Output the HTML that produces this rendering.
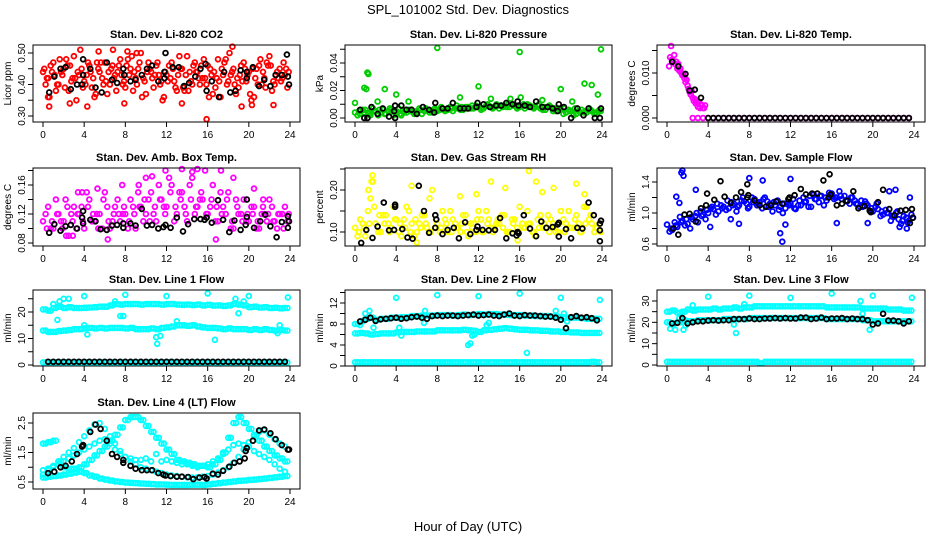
<!DOCTYPE html>
<html><head><meta charset="utf-8"><style>
html,body{margin:0;padding:0;background:#fff;}
svg{display:block;font-family:"Liberation Sans",sans-serif;}
</style></head><body>
<svg id="chart" width="936" height="540" viewBox="0 0 936 540">
<text x="468" y="14" text-anchor="middle" font-size="13">SPL_101002  Std. Dev. Diagnostics</text>
<text x="468" y="531" text-anchor="middle" font-size="13">Hour of Day (UTC)</text>
</svg>
<script>
// ---------- data ----------
const co2A = [.44,.42,.47,.40,.45,.38,.49,.43,.41,.46,.36,.44,.47,.40,.43,.48,.39,.45,.42,.50,.37,.44,.46,.41,.43,.47,.38,.45,.49,.40,.44,.42,.46,.37,.48,.43,.41,.45,.39,.47,.44,.36,.46,.42,.49,.40,.45,.43];
const co2B = [.40,.46,.38,.44,.48,.41,.35,.45,.43,.39,.47,.42,.37,.46,.44,.40,.48,.38,.45,.42,.47,.39,.43,.36,.46,.41,.49,.38,.44,.47,.40,.42,.45,.39,.36,.48,.43,.37,.46,.41,.35,.45,.40,.47,.38,.44,.42,.39];
const co2C = [.45,.36,.43,.48,.39,.46,.42,.51,.40,.44,.37,.47,.41,.45,.38,.43,.46,.49,.40,.36,.44,.42,.47,.35,.41,.45,.43,.39,.38,.46,.42,.48,.36,.44,.41,.47,.50,.40,.43,.45,.37,.42,.48,.39,.46,.43,.41,.45];
const co2D = [.42,.44,.40,.43,.46,.42,.44,.39,.47,.42,.45,.40,.44,.42,.46,.41,.43,.44,.47,.41,.45,.43,.40,.44,.42,.39,.45,.43,.41,.44,.46,.40,.43,.42,.45,.40,.44,.42,.41,.43,.45,.40,.44,.46,.41,.42,.47,.44];
const co2OutT = [0.6,4.3,2.6,6.8,7.9,8.2,9.1,15.9,18.4,19.3,20.3,22.4,0.5,5.4,13.5];
const co2OutV = [.33,.33,.34,.51,.34,.505,.50,.29,.52,.33,.335,.335,.36,.505,.34];
const co2BlkT = [0.6,1.1,1.7,2.2,2.7,3.3,3.8,3.9,3.9,4.6,5.1,5.7,6.2,6.7,7.2,7.8,7.9,8.5,9.0,9.6,10.1,10.6,11.2,11.8,11.9,11.8,12.6,13.2,13.7,14.2,14.8,15.3,15.8,15.9,16.4,17.1,17.6,18.2,18.7,19.2,19.8,19.8,20.4,21.0,21.5,22.1,22.6,23.2,23.7,23.8,23.9];
const co2BlkV = [.375,.425,.45,.455,.385,.40,.40,.48,.43,.45,.39,.375,.47,.415,.405,.45,.43,.41,.415,.43,.45,.46,.41,.42,.50,.44,.455,.455,.395,.405,.425,.45,.465,.38,.41,.36,.44,.375,.38,.445,.42,.44,.455,.395,.415,.395,.43,.43,.495,.425,.40];

const presA = [.004,.003,.006,.002,.005,.004,.003,.006,.005,.002,.004,.006,.005,.003,.006,.004,.005,.007,.006,.005,.007,.006,.008,.007,.008,.007,.009,.008,.007,.009,.008,.009,.008,.007,.009,.008,.007,.006,.008,.005,.006,.004,.005,.003,.006,.004,.005,.003];
const presB = [.002,.006,.004,.007,.002,.006,.005,.002,.007,.004,.006,.003,.007,.005,.004,.007,.006,.005,.008,.007,.006,.008,.007,.009,.006,.009,.008,.010,.009,.008,.010,.007,.009,.010,.008,.009,.006,.008,.005,.007,.003,.006,.002,.005,.004,.007,.003,.006];
const presC = [.005,.004,.003,.005,.006,.003,.007,.004,.003,.006,.005,.004,.006,.007,.005,.006,.008,.006,.007,.009,.008,.007,.009,.008,.007,.010,.007,.009,.008,.010,.009,.008,.010,.009,.007,.010,.008,.009,.007,.006,.007,.005,.007,.004,.005,.006,.004,.005];
const presOutT = [0,0.9,1.1,1.2,1.3,2.2,2.9,4.0,5.2,8.0,10.2,12.0,13.2,15.1,16.0,16.1,18.2,20.0,21.1,22.3,23.0,23.6,23.9];
const presOutV = [.011,.022,.021,.033,.032,.012,.021,.017,.012,.051,.015,.023,.014,.014,.048,.015,.013,.021,.012,.025,.024,.017,.050];
const presBlkT = [0.5,0.9,1.2,1.6,2.2,2.7,3.3,3.8,3.9,3.9,4.5,5.0,5.5,6.0,6.6,7.2,7.7,7.8,8.5,9.0,9.5,10.2,10.6,11.0,11.8,11.9,12.5,13.1,13.7,14.2,14.7,15.3,15.8,15.9,16.5,17.0,17.6,18.2,18.7,19.2,19.7,19.8,20.3,21.0,21.6,22.2,22.7,23.3,23.8,23.9];
const presBlkV = [.006,0,0,.008,.003,.007,.001,.005,0,.009,.009,.006,.006,.003,.008,.006,.004,.011,.007,.007,.011,.007,.007,.007,.008,.011,.010,.008,.009,.009,.011,.010,.012,.009,.009,.008,.012,.008,.008,.007,.005,.010,.008,0,.007,.002,.007,0,0,.007];

const tempRampT = [0.2,0.3,0.4,0.5,0.6,0.7,0.8,0.9,1.0,1.1,1.2,1.3,1.4,1.5,1.6,1.7,1.8,1.9,2.0,2.1,2.2,2.3,2.4,2.5,2.6,2.7,2.8,2.9,3.0,3.1,3.2,3.3,3.4,3.5,3.6,3.7];
const tempRampV = [.0115,.0135,.016,.013,.0125,.014,.012,.0125,.011,.012,.0105,.011,.010,.0095,.0098,.0088,.008,.0085,.0072,.0065,.0058,.0052,.006,.0045,.0038,.0042,.0032,.0035,.0025,.0035,.0022,.003,.0028,.0022,.0022,.0028];
const tempZeroV = [0,0,0,0,0,0,0,0,0,0,0,0,0,0,0,0,0,0,0,0,0,0,0,0,0,0,0,0,0,0,0,0,0,0,0,0,0,0,0,0,0,0,0,0,0,0,0,0];
const tempBlkT = [0.5,1.1,1.8,2.2,2.7,3.3];
const tempBlkV = [.0125,.0115,.0098,.0061,.0063,.0045];

const ambA = [.11,.13,.10,.12,.11,.09,.13,.12,.10,.14,.11,.12,.15,.10,.13,.11,.12,.14,.10,.13,.12,.15,.11,.14,.13,.16,.12,.15,.11,.17,.13,.14,.12,.16,.11,.13,.15,.10,.12,.14,.11,.13,.10,.12,.14,.11,.12,.13];
const ambB = [.12,.10,.14,.11,.09,.12,.10,.13,.15,.11,.12,.10,.13,.11,.14,.12,.10,.13,.15,.11,.14,.12,.16,.13,.17,.11,.15,.13,.16,.12,.14,.18,.13,.11,.15,.12,.10,.14,.12,.11,.13,.10,.12,.11,.13,.10,.12,.11];
const ambC = [.10,.11,.12,.10,.13,.11,.12,.11,.13,.12,.10,.14,.11,.12,.12,.13,.11,.12,.13,.14,.11,.13,.14,.12,.15,.13,.14,.12,.14,.13,.15,.12,.14,.13,.12,.14,.11,.13,.11,.12,.12,.11,.13,.12,.11,.12,.10,.12];
const ambOutT = [3.8,3.4,5.3,7.7,9.3,10.0,10.6,11.9,13.5,14.5,15.0,17.3,18.5,20.5,21.4,6.3,16.8,2.9,2.2];
const ambOutV = [.15,.15,.155,.16,.16,.17,.172,.18,.182,.178,.182,.18,.17,.155,.14,.085,.085,.09,.14];
const ambBlkT = [0.6,1.1,1.7,2.2,2.7,3.3,3.8,3.9,3.9,4.6,5.1,5.6,6.2,6.7,7.2,7.8,7.8,8.5,9.0,9.6,10.1,10.6,11.2,11.7,11.9,12.4,13.0,13.6,14.1,14.7,15.3,15.7,15.9,16.4,17.0,17.5,18.1,18.6,19.2,19.7,19.8,19.8,20.5,21.1,21.6,22.1,22.7,23.2,23.8,23.8,23.9];
const ambBlkV = [.094,.106,.097,.103,.105,.10,.115,.107,.124,.112,.110,.099,.098,.104,.105,.107,.101,.107,.104,.127,.104,.105,.100,.102,.105,.101,.115,.096,.106,.113,.113,.112,.115,.108,.139,.112,.095,.111,.098,.105,.116,.140,.101,.110,.119,.103,.088,.109,.101,.117,.110];

const rhA = [.11,.13,.09,.18,.12,.10,.14,.11,.13,.09,.16,.12,.10,.14,.11,.20,.12,.15,.10,.13,.11,.14,.09,.12,.15,.10,.13,.11,.12,.14,.10,.13,.16,.11,.12,.09,.14,.11,.13,.10,.15,.12,.11,.14,.10,.16,.12,.11];
const rhB = [.09,.12,.15,.22,.10,.14,.12,.16,.10,.13,.15,.09,.12,.14,.18,.11,.10,.13,.15,.12,.10,.14,.12,.10,.13,.15,.11,.12,.14,.10,.13,.11,.12,.15,.10,.13,.11,.14,.12,.10,.13,.15,.11,.12,.16,.13,.10,.12];
const rhC = [.10,.11,.12,.16,.14,.12,.10,.13,.12,.11,.10,.13,.11,.12,.10,.13,.11,.12,.10,.11,.12,.10,.11,.13,.10,.12,.10,.13,.11,.10,.12,.10,.11,.12,.10,.11,.12,.10,.11,.12,.10,.11,.13,.10,.12,.14,.11,.10];
const rhOutT = [1.7,1.6,1.3,5.5,10.2,11.8,13.2,14.6,16.9,17.6,18.2,19.3,21.5,22.3,6.0,15.8];
const rhOutV = [.235,.22,.20,.21,.185,.19,.22,.205,.245,.22,.195,.205,.215,.19,.075,.08];
const rhBlkT = [0.6,1.1,1.7,2.2,2.8,3.3,3.8,3.9,3.9,4.6,5.1,5.6,6.2,6.7,7.2,7.8,7.8,7.9,8.5,9.0,9.6,10.1,10.7,11.2,11.8,11.9,12.4,13.0,13.6,14.1,14.7,15.3,15.7,15.8,15.9,16.4,17.0,17.6,18.1,18.6,19.2,19.7,19.8,19.8,20.5,21.0,21.6,22.1,22.7,23.2,23.8,23.8,23.8,23.9];
const rhBlkV = [.074,.105,.086,.113,.17,.104,.105,.16,.165,.107,.087,.084,.21,.15,.098,.11,.14,.13,.095,.105,.11,.085,.123,.095,.105,.113,.105,.104,.105,.133,.085,.097,.092,.10,.097,.14,.108,.09,.125,.11,.112,.118,.122,.089,.107,.085,.11,.108,.17,.14,.078,.104,.12,.127];

const flowA = [0.85,0.78,0.82,0.90,0.86,0.92,0.88,0.98,1.00,1.05,1.02,1.08,1.06,1.12,1.10,1.15,1.08,1.18,1.14,1.20,1.12,1.10,1.08,1.06,1.12,1.05,1.10,1.15,1.08,1.18,1.22,1.16,1.25,1.20,1.18,1.15,1.20,1.12,1.08,1.10,1.02,1.05,0.98,1.00,0.95,0.92,0.96,0.90];
const flowB = [0.76,0.88,0.95,0.84,0.80,0.96,1.02,0.92,1.06,0.98,1.10,1.04,1.14,1.02,1.16,1.12,1.20,1.10,1.06,1.15,1.02,1.16,1.00,1.12,1.18,1.10,1.20,1.08,1.24,1.14,1.10,1.26,1.18,1.28,1.22,1.12,1.16,1.08,1.15,1.02,1.08,0.96,1.04,0.90,1.00,0.86,0.94,0.98];
const flowC = [0.80,0.84,0.88,0.92,0.95,1.00,0.96,1.04,1.08,1.12,1.06,1.16,1.10,1.08,1.20,1.06,1.14,1.12,1.18,1.08,1.14,1.04,1.12,1.10,1.06,1.16,1.14,1.22,1.18,1.22,1.20,1.22,1.20,1.22,1.16,1.20,1.12,1.16,1.12,1.06,1.12,1.02,1.00,0.96,1.02,0.90,0.88,0.94];
const flowOutT = [1.4,1.5,1.6,0.9,1.2,2.8,4.2,6.2,7.0,8.0,9.3,11.0,11.2,11.5,12.0,16.5,19.5,21.6,22.2,22.6,23.3,23.6];
const flowOutV = [1.52,1.55,1.48,1.21,1.13,1.30,0.82,0.92,0.86,1.45,1.42,0.74,0.63,0.85,1.44,0.87,0.87,1.28,1.30,0.82,0.80,1.20];
const flowBlkT = [0.6,1.1,1.7,2.2,2.8,3.3,3.8,3.9,4.6,5.2,5.6,6.2,6.7,7.2,7.8,7.8,7.9,8.5,9.0,9.6,10.1,10.6,11.2,11.8,11.9,12.4,13.0,13.5,14.1,14.6,15.2,15.7,15.8,15.9,16.5,17.0,17.5,18.1,18.6,19.2,19.7,19.8,20.5,21.0,21.6,22.1,22.7,23.2,23.6,23.8,23.9];
const flowBlkV = [0.80,0.72,0.98,0.99,0.89,1.06,1.10,1.25,1.17,1.41,1.21,1.13,1.20,1.27,1.20,1.37,1.23,1.16,1.10,1.08,1.10,1.15,1.12,1.18,1.20,1.23,1.31,1.24,1.25,1.25,1.42,1.20,1.50,1.24,1.10,1.12,1.16,1.28,1.06,1.09,1.03,1.01,1.14,1.30,1.05,0.97,1.03,1.04,0.87,1.05,0.94];

const l1Top = [21,20.5,21.5,22,21.5,21.8,21.5,21.5,21.6,21.7,21.8,22,22,22.5,23,22.8,23,23,23,22.8,23,23,23,22.8,23,23,22.8,22.7,22.8,22.6,22.8,22.5,22.7,22.4,22.5,22.3,22.5,23,22.8,22.5,21.8,22,21.7,21.8,21.5,21.6,21.4,21.5];
const l1Mid = [13,12.5,12.5,12.8,13,13.2,13.5,13.5,13.8,14,13.8,14,13.8,14,14,14,13.8,14,13.5,13.5,13.5,13.8,13.5,14,14.2,14.5,15,15,14.8,15,14.5,14.2,14,14,13.8,13.5,13.8,13.5,13.5,13.5,13.2,13.5,13.2,13.5,13.2,13,13.2,13];
const l1Low = [1,1,1,1,1,1,1,1,1,1,1,1,1,1,1,1,1,1,1,1,1,1,1,1,1.1,1,1,1,1,1,1,1,1,1,0.6,1,1,1,1,1,1,1,1,1,1,1,1,1];
const l1OutT = [1.6,2.0,2.5,1.0,1.4,4,7,7.5,7.8,8,12,16,16.7,18.7,19,19.5,20,23.8,11.1,11,11.4,4.3,4.0,13,22.8,23];
const l1OutV = [24,25,25,23,17,26,24,18.5,18.5,26.5,26,27,9.5,25,19.5,24,26,25.5,8,10.5,11,11.5,15,16.5,12,15];
const l1Blk = [1.2,1.2,1.2,1.2,1.2,1.2,1.2,1.2,1.2,1.2,1.2,1.2,1.2,1.2,1.2,1.2,1.2,1.2,1.2,1.2,1.2,1.2,1.2,1.2,1.2,1.2,1.2,1.2,1.2,1.2,1.2,1.2,1.2,1.2,1.2,1.2,1.2,1.2,1.2,1.2,1.2,1.2,1.2,1.2,1.2,1.2,1.2];

const l2Top = [8,8.5,9,9.2,8.8,9,9,9.2,9.2,9.3,9.3,9.5,9.5,9.6,9.6,9.6,9.7,9.7,9.7,9.6,9.7,9.8,9.7,9.8,9.9,9.8,9.9,9.9,9.8,9.8,9.7,9.7,9.7,9.6,9.6,9.5,9.5,9.5,9.4,9.4,9.3,9.2,9.2,9.2,9.1,9.0,9.0,9.0];
const l2Mid = [6.2,6.3,6.2,6.0,6.1,6.2,6.2,6.2,6.4,6.5,6.5,6.5,6.6,6.6,6.6,6.6,6.8,6.8,6.8,6.8,6.8,6.9,6.8,6.7,6.5,6.8,6.9,7.0,7.1,7.2,7.1,7.0,6.9,6.9,6.8,6.8,6.7,6.7,6.6,6.6,6.5,6.5,6.4,6.4,6.3,6.3,6.3,6.3];
const l2Low = [0.7,0.7,0.7,0.7,0.7,0.7,0.7,0.7,0.7,0.7,0.7,0.7,0.7,0.7,0.7,0.7,0.7,0.7,0.7,0.7,0.7,0.7,0.7,0.7,0.7,0.7,0.7,0.7,0.7,0.7,0.7,0.7,0.7,0.7,0.7,0.7,0.7,0.7,0.7,0.7,0.7,0.7,0.7,0.7,0.7,0.7,0.8,0.7];
const l2OutT = [0.5,1.0,1.4,1.8,4,4.3,4.5,6.8,6.7,8,11,11.2,11.4,11.6,12,12.8,13.0,16,16.7,19.5,20,20.3,20.6,23.8];
const l2OutV = [7.8,10,10.5,7.3,13,7.3,5.8,10.5,8.2,13.5,4,4.3,5.8,6,13.3,7.8,8.2,13.8,2.5,10.5,13,10,8.5,12.6];
const l2Blk = [8.5,8.8,9.2,8.6,8.9,9.0,9.1,9.2,9.0,9.1,9.3,9.4,9.2,9.0,9.5,9.6,9.5,9.6,9.6,9.5,9.6,9.7,9.8,9.6,9.7,9.8,9.6,9.5,9.8,10.0,9.6,9.5,9.7,9.6,9.6,9.5,9.4,9.4,9.2,8.8,7.2,9.3,9.5,9.2,9.3,9.1,8.7];

const l3Top = [25,25.5,24.5,25,26,25.5,26,26,26,26.5,26,26.5,26.5,27,26.5,27,27,27.5,27.5,27.5,27.5,27.5,27.5,27.5,27.5,27.5,27.5,27.5,27.5,27.5,27.5,27,27,27,27,27,27,27,26.5,26.5,26.5,26.5,26.5,26,26,26,25.5,25.5];
const l3Mid = [20,19.5,20,21,20.5,20.5,21,21,21,21,21,21.5,21.5,21.5,21.5,21.5,22,22,22,22,22,22,22,22,22,22,22,22,22,22,22,21.5,21.5,21.5,21.5,21.5,21.5,21.5,21,21,20.5,20.5,20.5,20.5,20.5,20.5,20.5,20.5];
const l3Low = [1.5,1.5,1.5,1.5,1.5,1.5,1.5,1.5,1.5,1.5,1.5,1.5,1.5,1.5,1.5,1.5,1.5,1.5,0.8,1.5,1.5,1.5,1.5,1.5,1.5,1.5,1.5,1.5,1.5,1.5,1.5,1.5,1.5,1.5,1.5,1.5,1.5,1.5,1.5,1.5,1.5,1.5,1.5,1.5,1.5,1.5,1.5,1.5];
const l3OutT = [0.3,0.8,1.2,1.6,1.8,2,2.5,4,6.7,6.5,8,12,16,18.8,19.7,20,23.8,19,7.5];
const l3OutV = [17,16.5,22,16.5,18.5,26,28,32,15,19,32.5,31.5,33.5,30,16.5,32.5,31.5,24,28.5];
const l3Blk = [19.5,19.8,22,19.5,20,20.5,20.5,20.8,21,20.8,21,21,21.5,21.5,21.5,21.8,21.5,21.5,21.8,21.8,22,21.8,22,21.8,21.8,22.2,22.2,21.5,21.8,22.2,21.5,21.8,21.8,22,21.5,21.8,21.5,21.5,21,19,19.5,24,20.8,20.8,20.5,19.5,20.5];

const l4C1 = [.65,.68,.70,.72,.75,.78,.82,.85,.80,.72,.68,.62,.58,.55,.52,.50,.48,.47,.46,.45,.44,.43,.42,.42,.41,.40,.40,.40,.40,.41,.41,.40,.42,.44,.46,.48,.50,.52,.54,.55,.57,.58,.60,.62,.64,.66,.68,.70];
const l4C2 = [.75,.90,1.05,1.20,1.35,1.50,1.65,1.85,2.05,2.25,2.45,2.50,2.30,2.05,1.80,1.55,1.35,1.20,1.10,1.00,.95,.90,.85,.80,.75,.72,.70,.68,.66,.65,.66,.68,.70,.75,.82,.90,1.00,1.15,1.35,1.60,1.85,2.05,2.20,2.25,2.10,1.95,1.80,1.70];
const l4C3 = [1.8,1.85,1.9,1.2,1.0,0.95,0.95,1.0,1.1,1.25,1.4,1.55,1.7,1.9,2.1,2.35,2.6,2.7,2.7,2.6,2.4,2.2,2.0,1.8,1.6,1.45,1.25,1.2,1.15,1.1,1.05,1.05,1.0,1.1,1.25,1.5,2.0,2.5,2.7,2.5,2.3,2.1,1.9,1.7,1.55,1.4,1.3,1.2];
const l4C4 = [.9,.95,1.0,1.1,1.2,1.3,1.4,1.5,1.6,1.7,1.8,1.9,1.95,1.8,1.6,1.45,1.35,1.3,1.25,1.25,1.3,1.2,1.45,1.2,1.25,1.2,1.15,1.1,1.1,1.05,1.0,1.05,1.1,1.2,1.3,1.45,1.6,1.75,1.8,1.75,1.7,1.55,1.45,1.35,1.25,1.1,0.95,0.85];
const l4BlkT = [0.5,1.1,1.7,2.2,2.8,3.3,3.8,3.9,4.6,5.1,5.6,6.2,6.7,7.2,7.8,7.8,8.5,9.0,9.6,10.1,10.6,11.2,11.7,11.9,12.4,13.0,13.5,14.1,14.6,15.2,15.7,15.9,16.5,17.0,17.5,18.1,18.6,19.1,19.6,19.7,19.8,20.4,21.0,21.5,22.1,22.6,23.2,23.8,23.9];
const l4BlkV = [.8,.85,1.0,1.05,1.2,1.45,1.7,1.75,2.2,2.45,2.3,1.9,1.45,1.35,1.25,1.15,1.05,.95,.9,.9,.9,.8,.75,.72,.7,.68,.68,.67,.6,.65,.67,.62,.78,.75,.88,1.02,1.15,1.2,1.3,1.55,1.65,1.9,2.25,2.28,2.15,1.95,1.75,1.6,1.6];

// sample times for half-hourly series
const t48 = Array.from({length:48},(_, i)=>i*0.5);
const t48b = t48.map(t=>t+0.25);
const t48c = t48.map(t=>t+0.375);
const tBlk47 = Array.from({length:47},(_, i)=>0.5+i*0.5);

const xTicks = [0,4,8,12,16,20,24];

// ---------- layout ----------
const cols = [{bx0:33,bx1:300,tx0:43,tx1:290},{bx0:345,bx1:612,tx0:355,tx1:602},{bx0:657,bx1:925,tx0:667,tx1:914}];
const rows = [{by0:45,by1:122},{by0:168,by1:246},{by0:290,by1:366},{by0:413,by1:489}];
const RED='#ff0000',GRN='#00cc00',MAG='#ff00ff',YEL='#ffff00',BLU='#0000ff',CYN='#00ffff',BLK='#000000';

const panels = [
 {name:'co2',title:'Stan. Dev. Li-820 CO2',ylab:'Licor ppm',c:0,r:0,v0:.30,p0:116,v1:.50,p1:53,yt:[.30,.35,.40,.45,.50],yl:[.30,.40,.50],fmt:2,
  series:[[t48,co2A,RED],[t48b,co2B,RED],[t48.map(t=>t+0.125),co2C,RED],[t48c,co2D,RED],[co2OutT,co2OutV,RED],[co2BlkT,co2BlkV,BLK]]},
 {name:'pressure',title:'Stan. Dev. Li-820 Pressure',ylab:'kPa',c:1,r:0,v0:0,p0:118,v1:.04,p1:63,yt:[0,.01,.02,.03,.04,.05],yl:[0,.02,.04],fmt:2,
  series:[[t48,presA,GRN],[t48b,presB,GRN],[t48c,presC,GRN],[presOutT,presOutV,GRN],[presBlkT,presBlkV,BLK]]},
 {name:'li820-temp',title:'Stan. Dev. Li-820 Temp.',ylab:'degrees C',c:2,r:0,v0:0,p0:118,v1:.010,p1:73,yt:[0,.005,.010,.015],yl:[0,.010],fmt:3,
  series:[[tempRampT,tempRampV,MAG],[t48.filter(t=>t>=2.5),tempZeroV.slice(0,t48.filter(t=>t>=2.5).length),MAG],[tempBlkT,tempBlkV,BLK],[tBlk47.filter(t=>t>=3.8),tempZeroV.slice(0,tBlk47.filter(t=>t>=3.8).length),BLK]]},
 {name:'amb-box-temp',title:'Stan. Dev. Amb. Box Temp.',ylab:'degrees C',c:0,r:1,v0:.08,p0:243,v1:.16,p1:185,yt:[.08,.10,.12,.14,.16,.18],yl:[.08,.12,.16],fmt:2,
  series:[[t48,ambA,MAG],[t48b,ambB,MAG],[t48c,ambC,MAG],[ambOutT,ambOutV,MAG],[ambBlkT,ambBlkV,BLK]]},
 {name:'gas-stream-rh',title:'Stan. Dev. Gas Stream RH',ylab:'percent',c:1,r:1,v0:.10,p0:232,v1:.20,p1:190,yt:[.10,.15,.20,.25],yl:[.10,.20],fmt:2,
  series:[[t48,rhA,YEL],[t48b,rhB,YEL],[t48c,rhC,YEL],[rhOutT,rhOutV,YEL],[rhBlkT,rhBlkV,BLK]]},
 {name:'sample-flow',title:'Stan. Dev. Sample Flow',ylab:'ml/min',c:2,r:1,v0:0.6,p0:244,v1:1.4,p1:182,yt:[0.6,0.8,1.0,1.2,1.4],yl:[0.6,1.0,1.4],fmt:1,
  series:[[t48,flowA,BLU],[t48b,flowB,BLU],[t48c,flowC,BLU],[flowOutT,flowOutV,BLU],[flowBlkT,flowBlkV,BLK]]},
 {name:'line1-flow',title:'Stan. Dev. Line 1 Flow',ylab:'ml/min',c:0,r:2,v0:0,p0:365,v1:20,p1:312,yt:[0,5,10,15,20,25],yl:[0,10,20],fmt:0,
  series:[[t48,l1Top,CYN],[t48b,l1Top,CYN],[t48,l1Mid,CYN],[t48b,l1Mid,CYN],[t48,l1Low,CYN],[t48b,l1Low,CYN],[l1OutT,l1OutV,CYN],[tBlk47,l1Blk,BLK]]},
 {name:'line2-flow',title:'Stan. Dev. Line 2 Flow',ylab:'ml/min',c:1,r:2,v0:0,p0:366,v1:12,p1:303,yt:[0,2,4,6,8,10,12,14],yl:[0,4,8,12],fmt:0,
  series:[[t48,l2Top,CYN],[t48b,l2Top,CYN],[t48,l2Mid,CYN],[t48b,l2Mid,CYN],[t48,l2Low,CYN],[t48b,l2Low,CYN],[l2OutT,l2OutV,CYN],[tBlk47,l2Blk,BLK]]},
 {name:'line3-flow',title:'Stan. Dev. Line 3 Flow',ylab:'ml/min',c:2,r:2,v0:0,p0:365,v1:30,p1:301,yt:[0,5,10,15,20,25,30],yl:[0,10,20,30],fmt:0,
  series:[[t48,l3Top,CYN],[t48b,l3Top,CYN],[t48,l3Mid,CYN],[t48b,l3Mid,CYN],[t48,l3Low,CYN],[t48b,l3Low,CYN],[l3OutT,l3OutV,CYN],[tBlk47,l3Blk,BLK]]},
 {name:'line4-flow',title:'Stan. Dev. Line 4 (LT) Flow',ylab:'ml/min',c:0,r:3,v0:0.5,p0:482,v1:2.5,p1:423,yt:[0.5,1.0,1.5,2.0,2.5],yl:[0.5,1.5,2.5],fmt:1,
  series:[[t48,l4C1,CYN],[t48b,l4C1,CYN],[t48,l4C2,CYN],[t48,l4C3,CYN],[t48b,l4C3,CYN],[t48,l4C4,CYN],[l4BlkT,l4BlkV,BLK]]}
];

const NS='http://www.w3.org/2000/svg';
const svg=document.getElementById('chart');
function mk(tag,attrs,parent){const e=document.createElementNS(NS,tag);for(const k in attrs)e.setAttribute(k,attrs[k]);(parent||svg).appendChild(e);return e;}

panels.forEach(p=>{
  const C=cols[p.c],R=rows[p.r];
  const xs=t=>C.tx0+t/24*(C.tx1-C.tx0);
  const ys=v=>p.p0+(v-p.v0)/(p.v1-p.v0)*(p.p1-p.p0);
  const g=mk('g',{});
  
  
  const tt=mk('text',{x:(C.bx0+C.bx1)/2,y:R.by0-7,'text-anchor':'middle','font-size':'11','font-weight':'bold'},g);
  tt.textContent=p.title;
  
  
  const pg=mk('g',{fill:'none','stroke-width':'1.8'},g);
  
  
  p.series.forEach(s=>{
    const [T,V,col]=s;
    for(let i=0;i<V.length&&i<T.length;i++){
      const c=mk('circle',{cx:xs(T[i]).toFixed(1),cy:ys(V[i]).toFixed(1),r:'2.4',stroke:col},pg);
      
      
    }
  });
  const b=mk('rect',{x:C.bx0,y:R.by0,width:C.bx1-C.bx0,height:R.by1-R.by0,fill:'none',stroke:'#000','stroke-width':'1'},g);
  
  
  xTicks.forEach(t=>{
    mk('line',{x1:xs(t),x2:xs(t),y1:R.by1,y2:R.by1+5,stroke:'#000'},g);
    const l=mk('text',{x:xs(t),y:R.by1+16,'text-anchor':'middle','font-size':'10'},g);
    l.textContent=t;
    
    
  });
  p.yt.forEach(v=>{ mk('line',{x1:C.bx0-5,x2:C.bx0,y1:ys(v),y2:ys(v),stroke:'#000'},g); });
  p.yl.forEach(v=>{
    const yy=ys(v), xx=C.bx0-8;
    const l=mk('text',{x:xx,y:yy,'text-anchor':'middle','font-size':'10',transform:`rotate(-90 ${xx} ${yy})`},g);
    l.textContent=v.toFixed(p.fmt);
    
    
  });
  const yc=(R.by0+R.by1)/2, xc=C.bx0-22;
  const yl=mk('text',{x:xc,y:yc,'text-anchor':'middle','font-size':'10',transform:`rotate(-90 ${xc} ${yc})`},g);
  yl.textContent=p.ylab;
  
  
});
</script>
</body></html>
